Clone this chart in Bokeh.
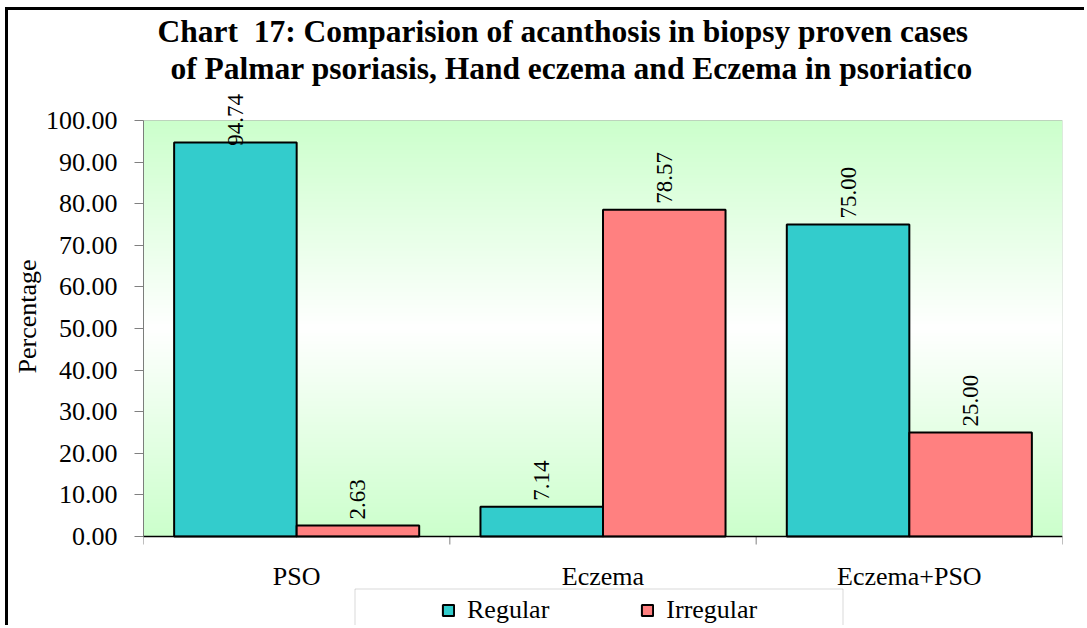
import numpy as np
from bokeh.plotting import figure
from bokeh.models import (ColumnDataSource, Range1d, FixedTicker, NumeralTickFormatter,
                          LabelSet, Legend, LegendItem, Title, BoxAnnotation, Span)
from bokeh.core.properties import value
from bokeh.embed import file_html
from bokeh.resources import INLINE

# ---- data ----
categories = ["PSO", "Eczema", "Eczema+PSO"]
series_names = ["Regular", "Irregular"]
regular = [94.74, 7.14, 75.00]
irregular = [2.63, 78.57, 25.00]
y_ticks = [0, 10, 20, 30, 40, 50, 60, 70, 80, 90, 100]
y_title = "Percentage"
title_lines = [
    "Chart \u00a017: Comparision of acanthosis in biopsy proven cases",
    "of Palmar psoriasis, Hand eczema and Eczema in psoriatico",
]

SERIF = "Liberation Serif"
SANS = "Liberation Sans"
REG_COLOR = "#33CCCC"
IRR_COLOR = "#FF8080"

# ---- layout (canvas pixels) ----
W, H = 1079, 618            # canvas size; the page border/margin adds the rest
FRAME_LEFT, FRAME_RIGHT = 135, 1054
FRAME_TOP = 76              # drawing area starts just under the title
AREA_TOP, AREA_BOTTOM = 110, 526   # shaded plot area (0..100)

n_cat = len(categories)
idx = np.arange(n_cat)
bar_w = 0.4
y0, y1 = y_ticks[0], y_ticks[-1]
px_per_unit = (AREA_BOTTOM - AREA_TOP) / (y1 - y0)
y_hi = y1 + (AREA_TOP - FRAME_TOP) / px_per_unit
y_lo = y0 - (H - AREA_BOTTOM) / px_per_unit

p = figure(width=W, height=H, output_backend="svg", toolbar_location=None,
           title_location=None, x_axis_location=None,
           x_range=Range1d(-0.5, n_cat - 0.5), y_range=Range1d(y_lo, y_hi),
           min_border_left=FRAME_LEFT, min_border_right=W - FRAME_RIGHT,
           min_border_top=FRAME_TOP, min_border_bottom=0)
p.styles = {"border-left": "3px solid black", "border-top": "3px solid black",
            "margin-left": "5px", "margin-top": "7px", "vertical-align": "top"}
p.background_fill_color = "white"
p.border_fill_color = "white"
p.outline_line_color = None
p.xgrid.visible = False
p.ygrid.visible = False

# plot-area fill: green at top and bottom fading to white in the middle
nrows = 256
t = np.linspace(0.0, 1.0, nrows)
w = 1.0 - np.abs(2.0 * t - 1.0)
base = np.array([204, 255, 204], dtype=float)
rows = base[None, :] + (255.0 - base[None, :]) * w[:, None]
img = np.empty((nrows, 2), dtype=np.uint32)
view = img.view(dtype=np.uint8).reshape((nrows, 2, 4))
for c in range(3):
    view[:, :, c] = rows[:, c].astype(np.uint8)[:, None]
view[:, :, 3] = 255
p.image_rgba(image=[img], x=-0.5, y=y0, dw=n_cat, dh=y1 - y0)

# plot-area border
p.add_layout(BoxAnnotation(left=-0.5, right=n_cat - 0.5, bottom=y0, top=y1,
                           fill_alpha=0, line_color="#5f705f", line_width=1))

# bars
label_cap = 92.5  # keeps the tallest bar's label inside the chart box
src_reg = ColumnDataSource(dict(x=idx - bar_w / 2, top=regular,
                                ly=np.minimum(regular, label_cap),
                                label=[f"{v:.2f}" for v in regular]))
src_irr = ColumnDataSource(dict(x=idx + bar_w / 2, top=irregular,
                                ly=np.minimum(irregular, label_cap),
                                label=[f"{v:.2f}" for v in irregular]))
r_reg = p.vbar(x="x", top="top", bottom=y0, width=bar_w, source=src_reg,
               fill_color=REG_COLOR, line_color="black", line_width=2)
r_irr = p.vbar(x="x", top="top", bottom=y0, width=bar_w, source=src_irr,
               fill_color=IRR_COLOR, line_color="black", line_width=2)

# value labels, rotated
for src in (src_reg, src_irr):
    p.add_layout(LabelSet(x="x", y="ly", text="label", source=src, angle=np.pi / 2,
                          text_align="left", text_baseline="middle", y_offset=6,
                          text_font=SANS, text_font_size="23px", text_color="black"))

# category axis: baseline, boundary ticks and labels
p.add_layout(Span(location=y0, dimension="width", line_color="black", line_width=1.5))
bounds_x = [i - 0.5 for i in range(n_cat + 1)]
tick_len = 8 / px_per_unit
p.segment(x0=bounds_x, x1=bounds_x, y0=[y0] * len(bounds_x),
          y1=[y0 - tick_len] * len(bounds_x), line_color="#808080", line_width=1)
p.text(x=idx, y=[y0] * n_cat, text=categories, y_offset=40,
       text_align="center", text_baseline="alphabetic",
       text_font=value(SERIF), text_font_size="26px", text_color="black")

# y axis
p.yaxis.bounds = (y0, y1)
p.yaxis.ticker = FixedTicker(ticks=y_ticks)
p.yaxis.formatter = NumeralTickFormatter(format="0.00")
p.yaxis.major_label_text_font = SERIF
p.yaxis.major_label_text_font_size = "26px"
p.yaxis.major_label_text_color = "black"
p.yaxis.major_label_standoff = 17
p.yaxis.axis_line_color = "#808080"
p.yaxis.major_tick_line_color = "#808080"
p.yaxis.major_tick_out = 9
p.yaxis.major_tick_in = 0
p.yaxis.minor_tick_line_color = None

# y-axis title, centred on the 0..100 span rather than the whole frame
AXIS_TITLE_START = 363  # canvas y where the rotated text begins
p.add_layout(Title(text=y_title, align="left", offset=H - AXIS_TITLE_START,
                   text_font=SERIF, text_font_size="26px", text_font_style="normal",
                   text_color="black", standoff=2), "left")

# two-line title
for line, off, so in ((title_lines[1], 27, 1), (title_lines[0], 14, 0)):
    p.add_layout(Title(text=line, align="left", offset=off, text_font=SERIF,
                       text_font_size="31.5px", text_font_style="bold",
                       text_color="black", standoff=so), "above")

# legend box
p.add_layout(BoxAnnotation(left=343.5, right=831.5, top=575.5, bottom=H + 40,
                           left_units="canvas", right_units="canvas",
                           top_units="canvas", bottom_units="canvas",
                           fill_color="white", fill_alpha=1,
                           line_color="#808080", line_width=1))

legend = Legend(items=[LegendItem(label=series_names[0], renderers=[r_reg]),
                       LegendItem(label=series_names[1], renderers=[r_irr])],
                orientation="horizontal", location=(298, H - 615),
                padding=0, margin=0, spacing=91, label_standoff=12,
                glyph_width=14, glyph_height=14, label_height=30,
                border_line_alpha=0, background_fill_alpha=0,
                label_text_font=SERIF, label_text_font_size="26px",
                label_text_color="black")
p.add_layout(legend, "center")

open("out.html", "w").write(file_html(p, INLINE))
